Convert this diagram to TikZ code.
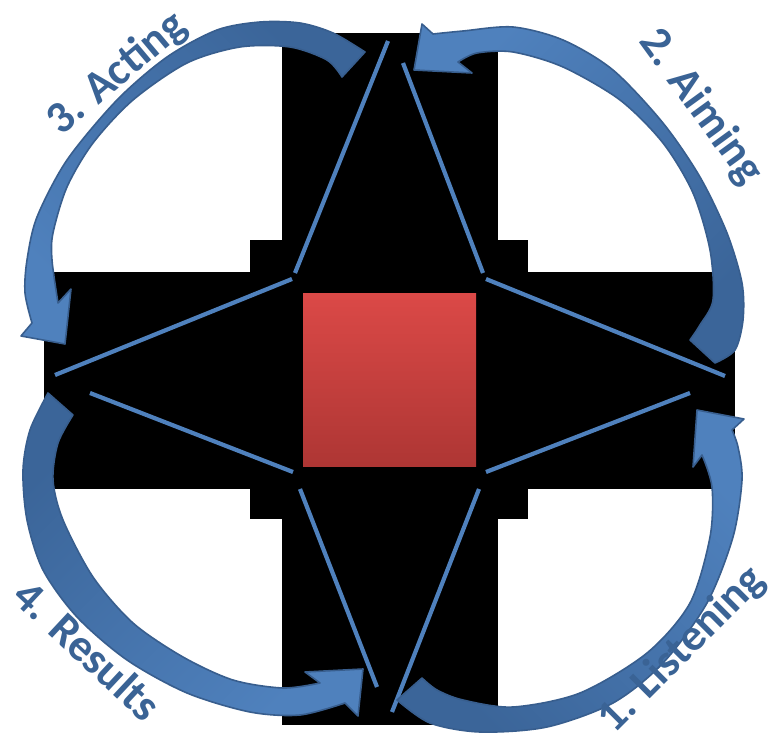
\documentclass[tikz,border=0pt]{standalone}
\usepackage{fontspec}
\setmainfont{Carlito}
\usetikzlibrary{positioning}
\definecolor{ringblue}{HTML}{4F81BD}
\definecolor{arrowdark}{HTML}{3B6599}
\definecolor{arrowedge}{HTML}{385E8E}
\definecolor{labelblue}{HTML}{3A6395}
\definecolor{coretop}{HTML}{DB4947}
\definecolor{corebottom}{HTML}{AE3634}
\tikzset{
    crossbar/.style={fill=black},
    starline/.style={draw=ringblue, line width=4.2pt},
    cyclearrow/.style={draw=arrowedge, line width=1.6pt, line join=round},
    phase/.style={text=labelblue, font=\fontsize{45}{50}\selectfont\bfseries, inner sep=0pt},
    core/.style={minimum size=173pt, inner sep=0pt, top color=coretop, bottom color=corebottom}
}

\begin{document}
\begin{tikzpicture}[x=1pt, y=-1pt]
    \useasboundingbox[fill=white] (0,0) rectangle (771,741);

    % black cross behind everything
    \fill[crossbar] (282,33) rectangle (498,725);
    \fill[crossbar] (44,272) rectangle (735,489);
    \fill[crossbar] (250,240) rectangle (528,519);

    \node[core] (core) at (389.5,379.5) {};

    % points of the star
    \coordinate (topL) at (388,41);
    \coordinate (topR) at (403,63);
    \coordinate (rightU) at (725,376);
    \coordinate (rightD) at (690,393);
    \coordinate (bottomR) at (392,712);
    \coordinate (bottomL) at (377,687);
    \coordinate (leftD) at (90,393);
    \coordinate (leftU) at (55,375);
    \coordinate (innerNW) at (295,273);
    \coordinate (innerWN) at (292,279);
    \coordinate (innerNE) at (483,273);
    \coordinate (innerEN) at (486,279);
    \coordinate (innerES) at (486,472);
    \coordinate (innerSE) at (479,489);
    \coordinate (innerSW) at (300,489);
    \coordinate (innerWS) at (293,472);

    \draw[starline] (topL) -- (innerNW);
    \draw[starline] (topR) -- (innerNE);
    \draw[starline] (innerEN) -- (rightU);
    \draw[starline] (rightD) -- (innerES);
    \draw[starline] (innerSE) -- (bottomR);
    \draw[starline] (innerSW) -- (bottomL);
    \draw[starline] (innerWS) -- (leftD);
    \draw[starline] (innerWN) -- (leftU);

    % 1. Listening: bottom to right
    \path[cyclearrow, top color=arrowdark, bottom color=ringblue, shading angle=135]
        plot[smooth] coordinates {(397,700) (430,723) (480,732) (547,727) (613,703) (663,663) (707,603) (733,537) (742,480) (738,447) (732,430)}
        -- (744,419) -- (697,410) -- (693,467)
        -- plot[smooth] coordinates {(702,455) (712,487) (710,537) (690,603) (647,653) (580,693) (513,707) (463,700) (437,690) (422,678)}
        -- cycle;
    % 2. Aiming: right to top
    \path[cyclearrow, top color=arrowdark, bottom color=ringblue, shading angle=-135]
        plot[smooth] coordinates {(715,363) (735,350) (743,320) (742,283) (727,233) (700,177) (663,123) (613,70) (563,40) (513,27) (463,31) (433,34)}
        -- (422,24) -- (414,70) -- (472,73)
        -- plot[smooth] coordinates {(458,62) (477,53) (513,52) (563,67) (620,100) (663,143) (693,193) (710,250) (713,300) (700,325) (690,340)}
        -- cycle;
    % 3. Acting: top to left
    \path[cyclearrow, top color=arrowdark, bottom color=ringblue, shading angle=-45]
        plot[smooth] coordinates {(365,52) (333,33) (300,23) (260,22) (217,30) (167,57) (117,100) (67,160) (37,217) (27,260) (25,293) (32,323)}
        -- (21,336) -- (65,344) -- (71,289)
        -- plot[smooth] coordinates {(58,303) (52,260) (53,233) (67,187) (93,143) (133,100) (187,63) (240,47) (290,47) (327,60) (342,77)}
        -- cycle;
    % 4. Results: left to bottom
    \path[cyclearrow, top color=arrowdark, bottom color=ringblue, shading angle=45]
        plot[smooth] coordinates {(48,393) (30,430) (23,470) (27,520) (43,570) (77,617) (127,660) (187,693) (250,712) (300,715) (345,703)}
        -- (358,716) -- (363,669) -- (305,672)
        -- plot[smooth] coordinates {(320,683) (283,688) (233,680) (183,657) (133,623) (93,577) (63,520) (53,480) (58,443) (73,415)}
        -- cycle;

    \node[phase, rotate=45] (listening) at (682,650) {1. Listening};
    \node[phase, rotate=-54] (aiming) at (701,107) {2. Aiming};
    \node[phase, rotate=40] (acting) at (117,74) {3. Acting};
    \node[phase, rotate=-43] (results) at (88,650) {4. Results};
\end{tikzpicture}
\end{document}
